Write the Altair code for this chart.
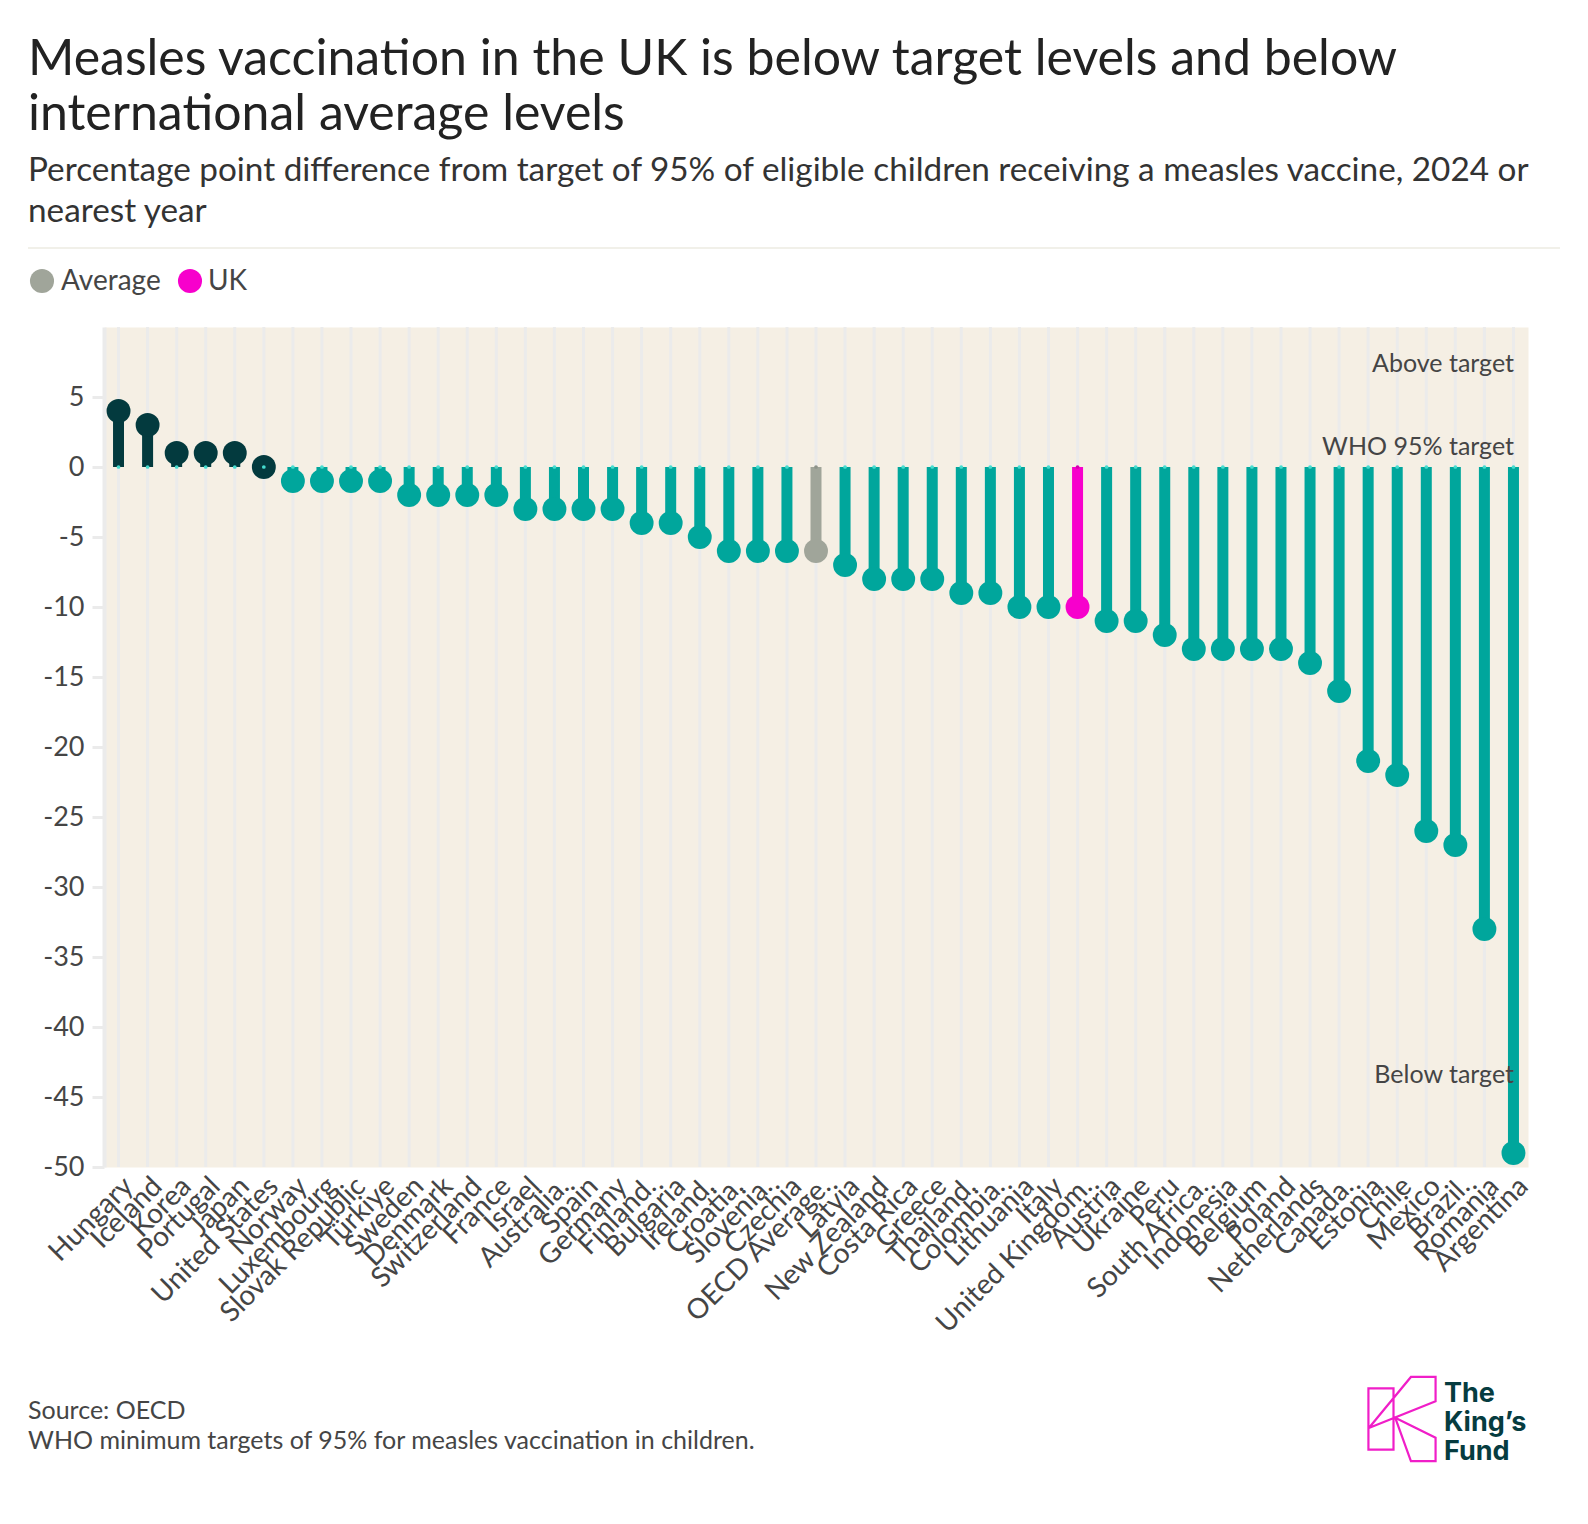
import altair as alt
import pandas as pd

# Percentage point difference from the WHO 95% measles target, ordered high to low
countries = [
    "Hungary", "Iceland", "Korea", "Portugal", "Japan", "United States",
    "Norway", "Luxembourg", "Slovak Republic", "Türkiye", "Sweden", "Denmark",
    "Switzerland", "France", "Israel", "Australia.", "Spain", "Germany",
    "Finland.", "Bulgaria", "Ireland.", "Croatia.", "Slovenia.", "Czechia",
    "OECD Average.", "Latvia", "New Zealand", "Costa Rica", "Greece",
    "Thailand.", "Colombia.", "Lithuania", "Italy", "United Kingdom.",
    "Austria", "Ukraine", "Peru", "South Africa.", "Indonesia", "Belgium",
    "Poland", "Netherlands", "Canada.", "Estonia", "Chile", "Mexico",
    "Brazil.", "Romania", "Argentina",
]
values = [
    4, 3, 1, 1, 1, 0,
    -1, -1, -1, -1, -2, -2,
    -2, -2, -3, -3, -3, -3,
    -4, -4, -5, -6, -6, -6,
    -6, -7, -8, -8, -8,
    -9, -9, -10, -10, -10,
    -11, -11, -12, -13, -13, -13,
    -13, -14, -16, -21, -22, -26,
    -27, -33, -49,
]
y_ticks = [5, 0, -5, -10, -15, -20, -25, -30, -35, -40, -45, -50]

AVERAGE_NAME = "OECD Average."
UK_NAME = "United Kingdom."

group_names = ["Above", "Below", "Average", "UK"]
group_colors = ["#033a3e", "#00a69c", "#a0a59a", "#f700cc"]
dot_colors = ["#45dccf", "#45dccf", "#8e938a", "#d400ae"]

FONT = "Lato"
INK = "#454545"


def group_of(name, value):
    if name == AVERAGE_NAME:
        return "Average"
    if name == UK_NAME:
        return "UK"
    return "Above" if value >= 0 else "Below"


df = pd.DataFrame({"country": countries, "value": values})
df["group"] = [group_of(c, v) for c, v in zip(countries, values)]
df["dot"] = [dot_colors[group_names.index(g)] for g in df["group"]]

x_enc = alt.X(
    "country:N",
    sort=countries,
    scale=alt.Scale(type="point", padding=0.5),
    axis=alt.Axis(
        title=None, labelAngle=-45, labelAlign="right", labelBaseline="top",
        labelFont=FONT, labelFontSize=28, labelColor=INK, labelPadding=5,
        labelOverlap=False, labelBound=False, labelLimit=500, ticks=False,
        domain=False, grid=False,
    ),
)
y_scale = alt.Scale(domain=[-50, 10], nice=False, zero=False)
y_enc = alt.Y(
    "value:Q",
    scale=y_scale,
    axis=alt.Axis(
        title=None, values=y_ticks, labelExpr="'' + datum.value",
        labelFont=FONT, labelFontSize=27, labelColor=INK, labelPadding=8,
        domainColor="#ebebeb", domainWidth=4, tickColor="#ebebeb",
        tickWidth=3, tickSize=12, grid=False,
    ),
)
color_enc = alt.Color(
    "group:N", scale=alt.Scale(domain=group_names, range=group_colors), legend=None
)

base = alt.Chart(df)

grid = base.mark_rule(strokeWidth=3, color="#ebebeb").encode(x=x_enc)

stems = base.mark_rule(strokeWidth=11, strokeCap="butt").encode(
    x=x_enc, y=y_enc, y2=alt.datum(0), color=color_enc
)

heads = base.mark_circle(size=572, opacity=1).encode(
    x=x_enc, y=y_enc, color=color_enc
)

zero_dots = base.mark_circle(size=14, opacity=1).encode(
    x=x_enc, y=alt.datum(0), color=alt.Color("dot:N", scale=None, legend=None)
)

# Region notes inside the plot
notes = pd.DataFrame({
    "note": ["Above target", "WHO 95% target", "Below target"],
    "value": [6.8, 0.85, -44.0],
})
note_text = alt.Chart(notes).mark_text(
    align="right", baseline="alphabetic", font=FONT, fontSize=25, color=INK
).encode(x=alt.value(1410), y=alt.Y("value:Q"), text="note:N")


def label(text, x, y, size, color, weight="normal", align="left",
          baseline="alphabetic", font=FONT):
    return alt.Chart(pd.DataFrame({"t": [text]})).mark_text(
        align=align, baseline=baseline, font=font, fontSize=size,
        fontWeight=weight, color=color,
    ).encode(x=alt.value(x), y=alt.value(y), text="t:N")


title_1 = label("Measles vaccination in the UK is below target levels and below", -76, -252, 50, "#222222")
title_2 = label("international average levels", -76, -197, 50, "#222222")
sub_1 = label("Percentage point difference from target of 95% of eligible children receiving a measles vaccine, 2024 or", -76, -146, 33.3, "#333333")
sub_2 = label("nearest year", -76, -105, 33.3, "#333333")

separator = alt.Chart(pd.DataFrame({"a": [0]})).mark_rule(
    color="#ecebe2", strokeWidth=1.5
).encode(x=alt.value(-76), x2=alt.value(1456), y=alt.value(-79))

legend_avg_dot = alt.Chart(pd.DataFrame({"a": [0]})).mark_circle(
    size=580, opacity=1, color=group_colors[2]
).encode(x=alt.value(-62), y=alt.value(-46))
legend_uk_dot = alt.Chart(pd.DataFrame({"a": [0]})).mark_circle(
    size=580, opacity=1, color=group_colors[3]
).encode(x=alt.value(86), y=alt.value(-46))
legend_avg = label("Average", -43, -45, 28, INK, baseline="middle")
legend_uk = label("UK", 104, -45, 28, INK, baseline="middle")

source_1 = label("Source: OECD", -76, 1092, 25, INK)
source_2 = label("WHO minimum targets of 95% for measles vaccination in children.", -76, 1122, 25, INK)

# The King's Fund mark: outlined K plus a three-line wordmark
k_path = (
    "M -0.79 -0.72 L -0.20 -0.72 L -0.20 0.72 L -0.79 0.72 Z "
    "M 0.21 -0.99 L 0.79 -0.99 L 0.79 -0.42 L -0.78 0.21 Z "
    "M -0.16 -0.03 L 0.79 0.44 L 0.79 0.99 L 0.21 0.99 Z"
)
logo_k = alt.Chart(pd.DataFrame({"a": [0]})).mark_point(
    shape=k_path, size=7225, filled=False, stroke="#f01ec8", strokeWidth=2.2,
    opacity=1,
).encode(x=alt.value(1298), y=alt.value(1092))
wordmark = alt.Chart(pd.DataFrame({"a": [0]})).mark_text(
    text=["The", "King\u2019s", "Fund"], lineHeight=29, align="left",
    baseline="alphabetic", font="Inter", fontSize=27, fontWeight="bold",
    color="#063c40",
).encode(x=alt.value(1340), y=alt.value(1075))

chart = alt.layer(
    grid, stems, heads, zero_dots, note_text,
    title_1, title_2, sub_1, sub_2, separator,
    legend_avg_dot, legend_uk_dot, legend_avg, legend_uk,
    source_1, source_2, logo_k, wordmark,
).properties(
    width=1424,
    height=840,
    autosize=alt.AutoSizeParams(type="none"),
    padding={"left": 104, "top": 327, "right": 60, "bottom": 357},
    background="#ffffff",
).configure_view(fill="#f5efe4", stroke="transparent")

chart.save("out.html", embed_options={"renderer": "svg", "actions": False})
